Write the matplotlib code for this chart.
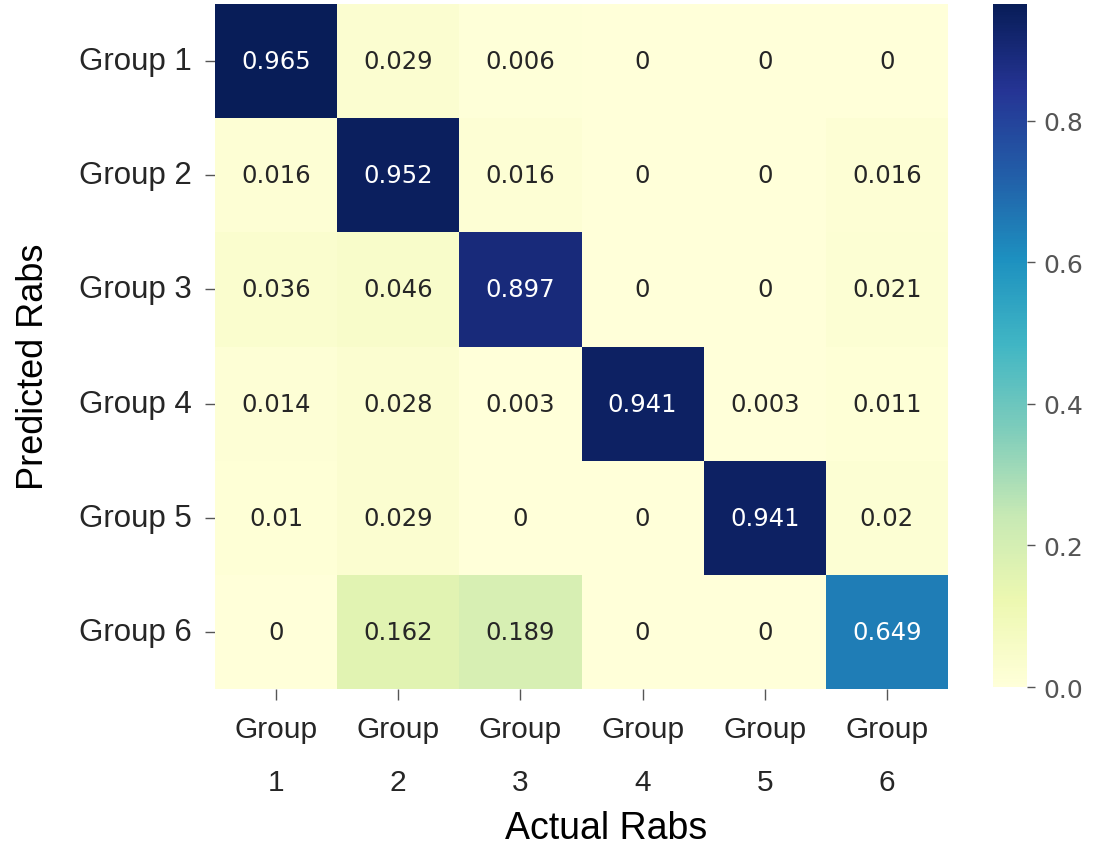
import numpy as np
import matplotlib
matplotlib.use("Agg")
import matplotlib.pyplot as plt
import seaborn as sns

row_labels = ["Group 1", "Group 2", "Group 3", "Group 4", "Group 5", "Group 6"]
col_labels = ["Group\n1", "Group\n2", "Group\n3", "Group\n4", "Group\n5", "Group\n6"]
values = [
    [0.965, 0.029, 0.006, 0, 0, 0],
    [0.016, 0.952, 0.016, 0, 0, 0.016],
    [0.036, 0.046, 0.897, 0, 0, 0.021],
    [0.014, 0.028, 0.003, 0.941, 0.003, 0.011],
    [0.01, 0.029, 0, 0, 0.941, 0.02],
    [0, 0.162, 0.189, 0, 0, 0.649],
]
cbar_ticks = [0.0, 0.2, 0.4, 0.6, 0.8]

sns.set_style("white")
plt.rcParams['font.family'] = ['DejaVu Sans']

W, H = 1094, 845
fig = plt.figure(figsize=(W / 100, H / 100), dpi=100)
ax = fig.add_axes([215 / W, 1 - 690 / H, 733 / W, 685 / H])
cax = fig.add_axes([993 / W, 1 - 688 / H, 34 / W, 683 / H])

data = np.array(values)
sns.heatmap(data, ax=ax, cbar_ax=cax, cmap="YlGnBu", vmin=0, vmax=data.max(),
            annot=True, fmt="g", annot_kws={"fontsize": 17.5, "family": "DejaVu Sans"},
            xticklabels=col_labels, yticklabels=row_labels,
            cbar_kws={"ticks": cbar_ticks})

lab_font = "Liberation Sans"
ax.set_yticklabels(row_labels, rotation=0, fontsize=22.5, family=lab_font, color="#262626")
ax.set_xticklabels(col_labels, rotation=0, fontsize=21.5, family=lab_font, color="#262626",
                   linespacing=2.1)
ax.tick_params(axis="y", length=7, width=1, pad=10, color="#555555", left=True)
ax.tick_params(axis="x", length=8, width=1, pad=11, color="#555555", bottom=True)

ax.set_xlabel("Actual Rabs", fontsize=27, family=lab_font, color="black")
ax.set_ylabel("Predicted Rabs", fontsize=26, family=lab_font, color="black")
ax.xaxis.set_label_coords(0.533, -0.176)
ax.yaxis.set_label_coords(-0.224, 0.472)

cax.set_yticklabels([f"{t:.1f}" for t in cbar_ticks])
cax.tick_params(axis="y", labelsize=18, labelcolor="#555555", color="#555555",
                length=6, width=1, pad=6, right=True)
for s in cax.spines.values():
    s.set_visible(False)

fig.savefig("out.png", dpi=100)
